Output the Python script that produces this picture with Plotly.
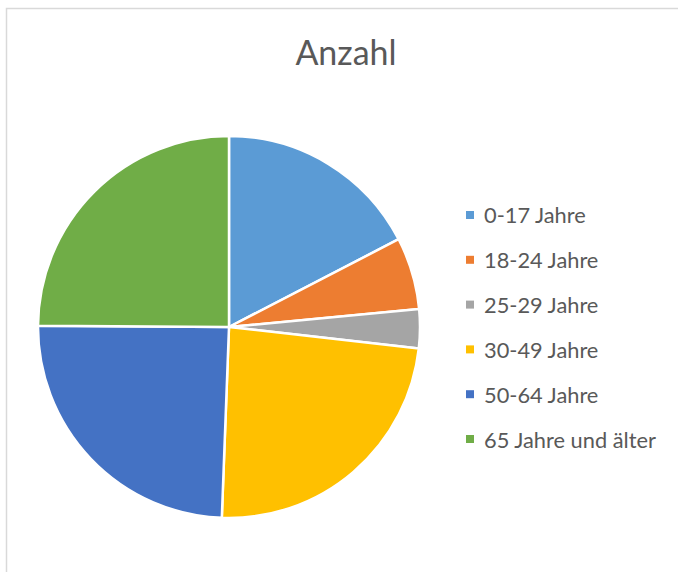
import plotly.graph_objects as go

W, H = 678, 572

labels = ["0-17 Jahre", "18-24 Jahre", "25-29 Jahre", "30-49 Jahre", "50-64 Jahre", "65 Jahre und älter"]
anzahl = [174, 61, 33, 238, 245, 249]
colors = ["#5B9BD5", "#ED7D31", "#A5A5A5", "#FFC000", "#4472C4", "#70AD47"]
title_text = "Anzahl"


def px_x(x):
    return x / W


def px_y(y):
    return 1 - y / H


fig = go.Figure()
fig.add_trace(go.Pie(
    labels=labels,
    values=anzahl,
    sort=False,
    direction="clockwise",
    rotation=0,
    textinfo="none",
    hoverinfo="label+value+percent",
    marker=dict(colors=colors, line=dict(color="white", width=2.5)),
    domain=dict(x=[px_x(38), px_x(420)], y=[px_y(518), px_y(136)]),
    showlegend=False,
))

# legend drawn by hand so the row spacing matches the reference
annotations = []
shapes = []
row_y0, row_gap = 215, 44.8
for i, (lab, col) in enumerate(zip(labels, colors)):
    cy = row_y0 + i * row_gap
    shapes.append(dict(type="rect", xref="paper", yref="paper",
                       x0=px_x(466), x1=px_x(474), y0=px_y(cy + 4), y1=px_y(cy - 4),
                       fillcolor=col, line=dict(width=0)))
    annotations.append(dict(text=lab, xref="paper", yref="paper",
                            x=px_x(482), y=px_y(cy), xanchor="left", yanchor="middle",
                            showarrow=False, font=dict(family="Lato", size=21.8, color="#595959")))

# chart area frame (only left and top edges visible in the crop)
shapes.append(dict(type="rect", xref="paper", yref="paper",
                   x0=px_x(6.5), x1=px_x(700), y0=px_y(600), y1=px_y(8.5),
                   line=dict(color="#D9D9D9", width=1.5), fillcolor="rgba(0,0,0,0)"))

fig.update_layout(
    width=W, height=H,
    margin=dict(l=0, r=0, t=0, b=0),
    paper_bgcolor="white",
    plot_bgcolor="white",
    title=dict(text=title_text, x=px_x(346), y=px_y(53), xanchor="center", yanchor="middle",
               font=dict(family="Lato", size=34, color="#595959")),
    annotations=annotations,
    shapes=shapes,
)

# drop the browser's default 8px body margin so the figure sits at the page origin
fig.write_html("out.html", config={"displayModeBar": False},
               post_script="document.body.style.margin='0';document.body.style.overflow='hidden';")
